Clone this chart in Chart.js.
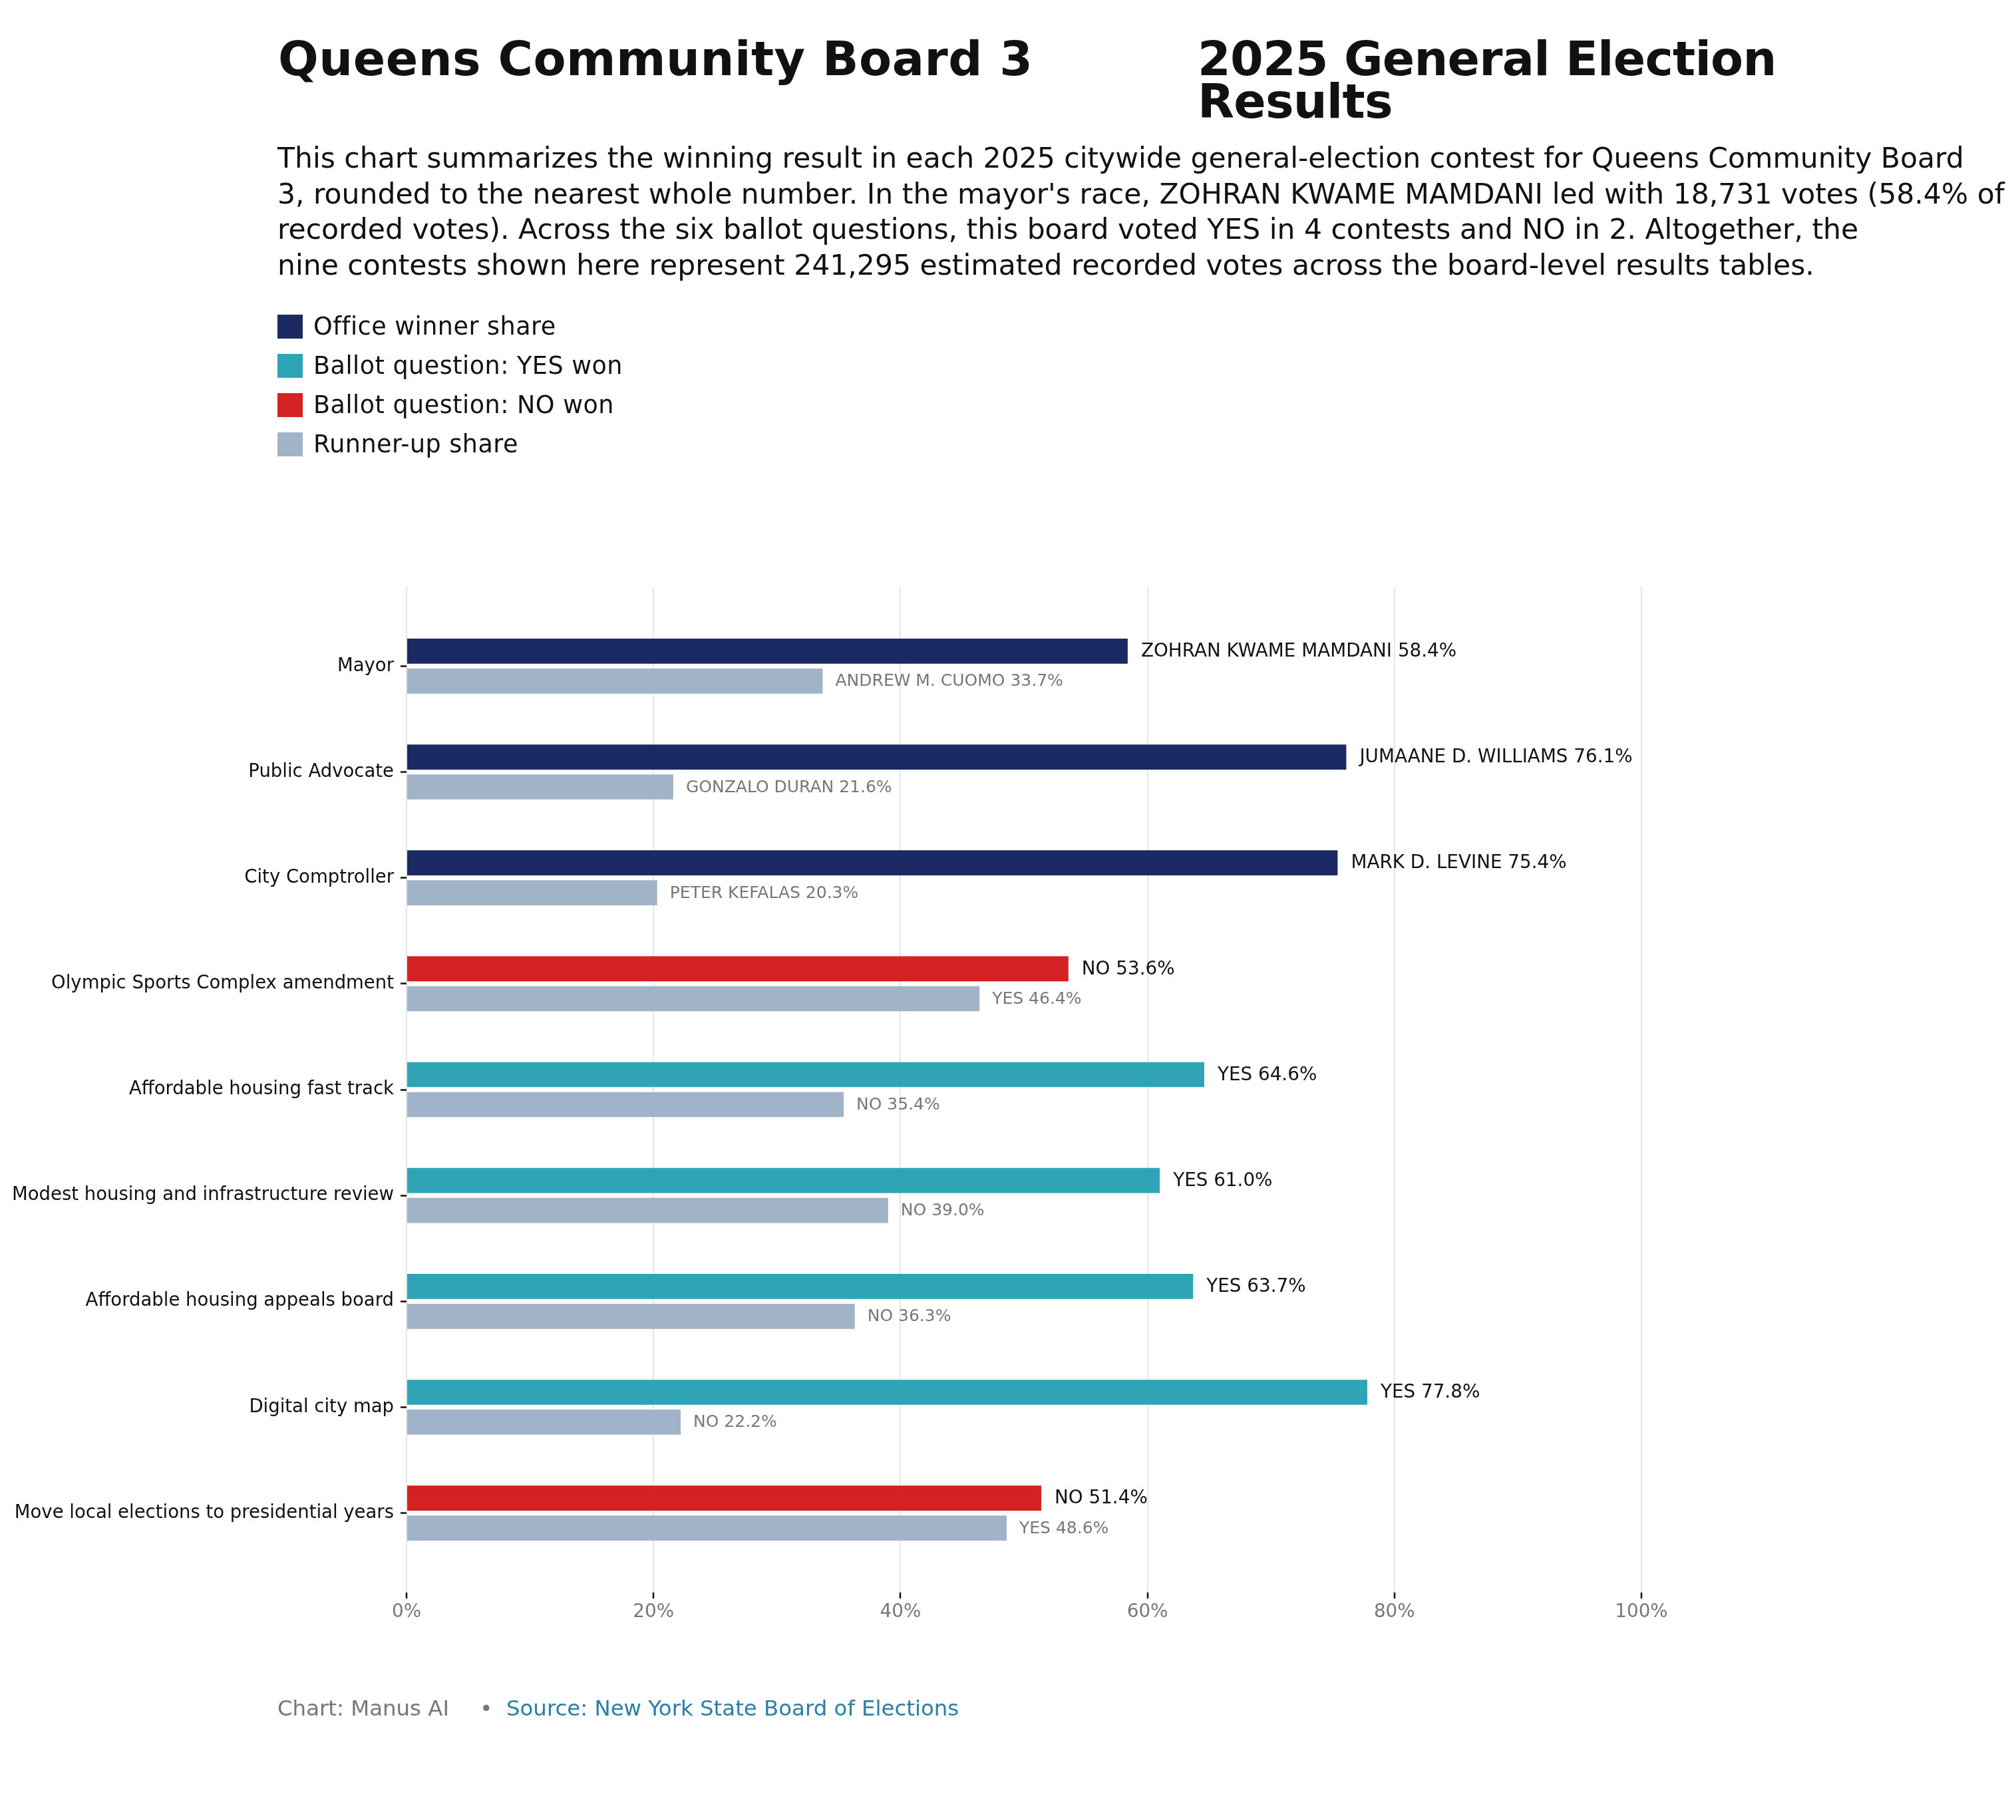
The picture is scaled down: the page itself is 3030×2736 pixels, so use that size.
<!DOCTYPE html>
<html>
  <head>
    <meta charset="UTF-8">
    <title>Queens Community Board 3 - 2025 General Election Results</title>
    <script src="https://cdn.jsdelivr.net/npm/chart.js"></script>
    <style>
      html, body { margin: 0; padding: 0; background: #fff; }
      body { width: 3030px; height: 2736px; position: relative; overflow: hidden; font-family: "DejaVu Sans", sans-serif; color: #111; }
      #chart { position: absolute; left: 0; top: 0; }
      .txt { position: absolute; white-space: nowrap; }
      .title { font-size: 71.5px; font-weight: bold; line-height: 64px; top: 57px; }
      .sub { left: 417px; top: 211px; font-size: 42.5px; line-height: 53.5px; }
      .legend { left: 417px; top: 461px; font-size: 36.5px; letter-spacing: 0.5px; }
      .legend .row { height: 59px; display: flex; align-items: center; }
      .legend .sw { width: 38px; height: 36px; margin-right: 16px; }
      .foot { left: 417px; top: 2548px; font-size: 32.4px; line-height: 40px; color: #777; }
      .foot .src { color: #2b7fa6; }
    </style>
  </head>
  <body>
    <canvas id="chart" width="3030" height="2736"></canvas>

    <div class="txt title" style="left:418px; letter-spacing:0.5px">Queens Community Board 3</div>
    <div class="txt title" style="left:1800px; letter-spacing:-0.8px">2025 General Election<br>Results</div>
    <div class="txt sub">This chart summarizes the winning result in each 2025 citywide general-election contest for Queens Community Board<br>3, rounded to the nearest whole number. In the mayor's race, ZOHRAN KWAME MAMDANI led with 18,731 votes (58.4% of<br>recorded votes). Across the six ballot questions, this board voted YES in 4 contests and NO in 2. Altogether, the<br>nine contests shown here represent 241,295 estimated recorded votes across the board-level results tables.</div>
    <div class="txt legend" id="legend"></div>
    <div class="txt foot">Chart: Manus AI<span style="margin:0 0 0 36px">&nbsp;•&nbsp;</span> <span class="src">Source: New York State Board of Elections</span></div>

    <script>
      // contests, top to bottom
      const contests = [
        'Mayor',
        'Public Advocate',
        'City Comptroller',
        'Olympic Sports Complex amendment',
        'Affordable housing fast track',
        'Modest housing and infrastructure review',
        'Affordable housing appeals board',
        'Digital city map',
        'Move local elections to presidential years'
      ];

      // winner kind: office / yes / no
      const winnerKind = ['office', 'office', 'office', 'no', 'yes', 'yes', 'yes', 'yes', 'no'];
      const winnerNames = ['ZOHRAN KWAME MAMDANI', 'JUMAANE D. WILLIAMS', 'MARK D. LEVINE', 'NO', 'YES', 'YES', 'YES', 'YES', 'NO'];
      const winnerShare = [58.4, 76.1, 75.4, 53.6, 64.6, 61.0, 63.7, 77.8, 51.4];

      const runnerNames = ['ANDREW M. CUOMO', 'GONZALO DURAN', 'PETER KEFALAS', 'YES', 'NO', 'NO', 'NO', 'NO', 'YES'];
      const runnerShare = [33.7, 21.6, 20.3, 46.4, 35.4, 39.0, 36.3, 22.2, 48.6];

      const xTicks = [0, 20, 40, 60, 80, 100];

      const colors = {
        office: '#1b2a63',
        yes: '#2ea4b6',
        no: '#d42222',
        runner: '#a0b3c8'
      };

      const legendItems = [
        ['Office winner share', colors.office],
        ['Ballot question: YES won', colors.yes],
        ['Ballot question: NO won', colors.no],
        ['Runner-up share', colors.runner]
      ];

      // html legend
      const legendEl = document.getElementById('legend');
      legendItems.forEach(([label, color]) => {
        const row = document.createElement('div');
        row.className = 'row';
        row.innerHTML = '<div class="sw" style="background:' + color + '"></div><span>' + label + '</span>';
        legendEl.appendChild(row);
      });

      const FONT = '"DejaVu Sans", sans-serif';

      // value labels at the end of each bar
      const barLabels = {
        id: 'barLabels',
        afterDatasetsDraw(chart) {
          const ctx = chart.ctx;
          ctx.save();
          ctx.textBaseline = 'middle';
          ctx.textAlign = 'left';
          chart.data.datasets.forEach((ds, di) => {
            const meta = chart.getDatasetMeta(di);
            meta.data.forEach((bar, i) => {
              if (di === 0) {
                ctx.font = '27.8px ' + FONT;
                ctx.fillStyle = '#111';
                ctx.fillText(winnerNames[i] + ' ' + winnerShare[i].toFixed(1) + '%', bar.x + 20, bar.y + 1);
              } else {
                ctx.font = '25px ' + FONT;
                ctx.fillStyle = '#777';
                ctx.fillText(runnerNames[i] + ' ' + runnerShare[i].toFixed(1) + '%', bar.x + 19, bar.y + 1);
              }
            });
          });
          ctx.restore();
        }
      };

      new Chart(document.getElementById('chart').getContext('2d'), {
        type: 'bar',
        data: {
          datasets: [
            {
              label: 'Winner',
              data: winnerShare.map((v, i) => ({ x: v, y: i })),
              backgroundColor: winnerKind.map(k => colors[k]),
              categoryPercentage: 0.565,
              barPercentage: 0.838
            },
            {
              label: 'Runner-up',
              data: runnerShare.map((v, i) => ({ x: v, y: i })),
              backgroundColor: colors.runner,
              categoryPercentage: 0.565,
              barPercentage: 0.838
            }
          ]
        },
        options: {
          indexAxis: 'y',
          responsive: false,
          animation: false,
          devicePixelRatio: 1,
          layout: { padding: { left: 0, top: 882, right: 563, bottom: 282 } },
          plugins: {
            legend: { display: false },
            tooltip: { enabled: false }
          },
          scales: {
            x: {
              type: 'linear',
              position: 'bottom',
              min: 0,
              max: 100,
              afterBuildTicks: s => { s.ticks = xTicks.map(v => ({ value: v })); },
              afterFit: s => { s.height = 60; },
              border: { display: false },
              grid: { color: '#e6e6e6', lineWidth: 2, tickColor: '#111', tickLength: 9, tickWidth: 2.5 },
              ticks: {
                callback: v => v + '%',
                color: '#777',
                padding: 4,
                font: { family: FONT, size: 27.8 }
              }
            },
            y: {
              type: 'linear',
              position: 'left',
              reverse: true,
              offset: false,
              min: -0.75,
              max: 8.75,
              afterBuildTicks: s => { s.ticks = contests.map((c, i) => ({ value: i })); },
              afterFit: s => { s.width = 611; },
              border: { display: false },
              grid: { offset: false, drawOnChartArea: false, tickColor: '#111', tickLength: 9, tickWidth: 2.5 },
              ticks: {
                autoSkip: false,
                callback: v => contests[v],
                color: '#111',
                padding: 10,
                font: { family: FONT, size: 27.5 }
              }
            }
          }
        },
        plugins: [barLabels]
      });
    </script>
  </body>
</html>
